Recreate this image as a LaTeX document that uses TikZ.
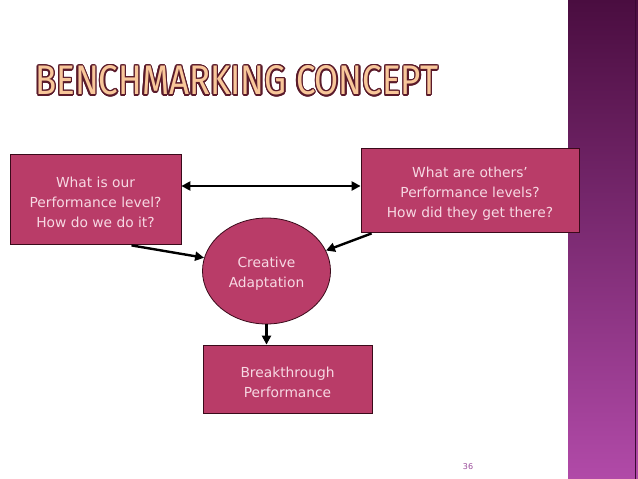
\documentclass[tikz,border=0pt]{standalone}
\usepackage{fontspec}
\setmainfont{DejaVu Sans}
\newfontfamily\titlefont{Fira Sans}
\usepackage{graphicx}
\usepackage{contour}
\contourlength{0.35pt}
\usetikzlibrary{arrows.meta,shapes.geometric,calc}
\definecolor{boxfill}{HTML}{B93C68}
\definecolor{boxtext}{HTML}{F7D8E3}
\definecolor{boxline}{HTML}{3A0A1A}
\definecolor{stripetop}{HTML}{4A0D40}
\definecolor{stripebot}{HTML}{B14AA8}
\definecolor{titlefill}{HTML}{F8C79A}
\definecolor{titleline}{HTML}{5A1A2A}
\definecolor{pagenum}{HTML}{9A4A9A}
\begin{document}
\begin{tikzpicture}[x=1pt,y=-1pt,
  box/.style={draw=boxline, line width=0.8pt, fill=boxfill, inner sep=0pt},
  txt/.style={text=boxtext, align=center, inner sep=0pt, font=\fontsize{13.8}{20}\selectfont},
  conn/.style={draw=black, line width=2.4pt, -{Triangle[length=9pt,width=9pt]}}
]
\useasboundingbox (0,0) rectangle (638,479);
\fill[white] (0,0) rectangle (638,479);
% right stripe
\shade[top color=stripetop, bottom color=stripebot] (568,0) rectangle (638,479);
\draw[white, line width=1pt] (567.5,0) -- (567.5,479);
\draw[stripetop!80!black, line width=1pt] (635,0) -- (635,479);
% title
\node[anchor=south west, inner sep=0pt] (title) at (35,97)
  {\resizebox{403pt}{29pt}{\titlefont\contour{titleline}{\textcolor{titlefill}{BENCHMARKING CONCEPT}}}};
% boxes
\node[box, minimum width=171pt, minimum height=90pt] (A) at (95.5,199) {};
\node[txt] (At) at ($(A.center)+(0,3)$) {What is our\\Performance level?\\How do we do it?};
\node[box, minimum width=218pt, minimum height=84pt] (B) at (470,190) {};
\node[txt] (Bt) at ($(B.center)+(0,4)$) {What are others’\\Performance levels?\\How did they get there?};
\node[box, ellipse, minimum width=128pt, minimum height=106pt] (C) at (266.5,271) {};
\node[txt] (Ct) at ($(C.center)+(0,3)$) {Creative\\Adaptation};
\node[box, minimum width=169pt, minimum height=68pt] (D) at (287.5,379) {};
\node[txt] (Dt) at ($(D.center)+(0,3)$) {Breakthrough\\Performance};
% connectors
\coordinate (h) at (0,186);
\draw[conn, {Triangle[length=9pt,width=9pt]}-{Triangle[length=9pt,width=9pt]}] (A.east |- h) -- (B.west |- h);
\draw[conn] ($(A.south)+(36,1)$) -- (C.168);
\draw[conn] ($(B.south west)+(11,1)$) -- (C.19);
\draw[conn] (C.south) -- (C.south |- D.north);
% page number
\node[text=pagenum, font=\fontsize{8}{9}\selectfont] (pn) at (468,467) {36};
\end{tikzpicture}
\end{document}
